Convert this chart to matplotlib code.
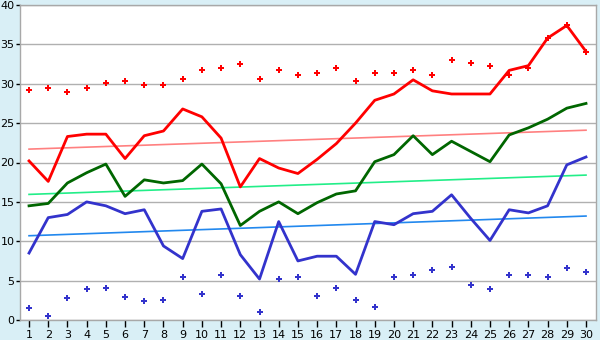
import matplotlib
matplotlib.use("Agg")
import matplotlib.pyplot as plt
import numpy as np

days = list(range(1, 31))
red_line = [20.2, 17.6, 23.3, 23.6, 23.6, 20.5, 23.4, 24.0, 26.8, 25.8,
            23.1, 16.9, 20.5, 19.3, 18.6, 20.4, 22.4, 25.0, 27.9, 28.7,
            30.5, 29.1, 28.7, 28.7, 28.7, 31.7, 32.3, 35.8, 37.4, 34.1]
red_pts = [29.2, 29.5, 28.9, 29.4, 30.1, 30.4, 29.9, 29.8, 30.6, 31.8,
           32.0, 32.5, 30.6, 31.7, 31.1, 31.4, 32.0, 30.3, 31.4, 31.4,
           31.7, 31.1, 33.0, 32.6, 32.2, 31.1, 32.0, 35.8, 37.4, 34.0]
green_line = [14.5, 14.8, 17.4, 18.7, 19.8, 15.7, 17.8, 17.4, 17.7, 19.8,
              17.3, 12.0, 13.8, 15.0, 13.5, 14.9, 16.0, 16.4, 20.1, 21.0,
              23.4, 21.0, 22.7, 21.4, 20.1, 23.5, 24.4, 25.5, 26.9, 27.5]
blue_line = [8.5, 13.0, 13.4, 15.0, 14.5, 13.5, 14.0, 9.4, 7.8, 13.8,
             14.1, 8.3, 5.2, 12.5, 7.5, 8.1, 8.1, 5.8, 12.5, 12.1,
             13.5, 13.8, 15.9, 12.9, 10.1, 14.0, 13.6, 14.5, 19.7, 20.7]
blue_pts = [1.5, 0.5, 2.8, 4.0, 4.1, 2.9, 2.4, 2.5, 5.4, 3.3,
            5.7, 3.1, 1.0, 5.2, 5.5, 3.0, 4.1, 2.5, 1.7, 5.4,
            5.7, 6.4, 6.7, 4.5, 4.0, 5.7, 5.7, 5.4, 6.6, 6.1]
trend_x = [1, 30]
red_trend = [21.7, 24.1]
green_trend = [15.95, 18.4]
blue_trend = [10.7, 13.2]
y_ticks = [0, 5, 10, 15, 20, 25, 30, 35, 40]

bg = "#D9EFF6"
fig = plt.figure(figsize=(6, 3.4), dpi=100, facecolor=bg)
ax = fig.add_axes([20/600, 20/340, 576/600, 315/340])
ax.set_facecolor("white")

ax.plot(trend_x, red_trend, color="#FF8080", lw=1.2, zorder=2)
ax.plot(trend_x, green_trend, color="#22EE88", lw=1.2, zorder=2)
ax.plot(trend_x, blue_trend, color="#2288EE", lw=1.2, zorder=2)

ax.plot(days, red_line, color="#FF0000", lw=2, zorder=3)
ax.plot(days, green_line, color="#006600", lw=2, zorder=3)
ax.plot(days, blue_line, color="#3333CC", lw=2, zorder=3)

ax.plot(days, red_pts, linestyle="none", marker="P", markersize=4.5,
        color="#FF0000", markeredgewidth=0, zorder=4)
ax.plot(days, blue_pts, linestyle="none", marker="P", markersize=4.5,
        color="#3333CC", markeredgewidth=0, zorder=4)

ax.set_xlim(0.53, 30.52)
ax.set_ylim(0, 40)
ax.set_xticks(days)
ax.set_xticklabels([str(d) for d in days])
ax.set_yticks(y_ticks)
ax.grid(axis="y", color="#B0B0B0", lw=1)
ax.set_axisbelow(True)
for s in ax.spines.values():
    s.set_color("#A8A8A8")
    s.set_linewidth(1)
ax.tick_params(axis="x", direction="out", length=5, width=1, color="black",
               labelsize=8, pad=2)
ax.tick_params(axis="y", direction="out", length=3, width=1, color="black",
               labelsize=8, pad=1)

fig.savefig("out.png", dpi=100, facecolor=bg)
